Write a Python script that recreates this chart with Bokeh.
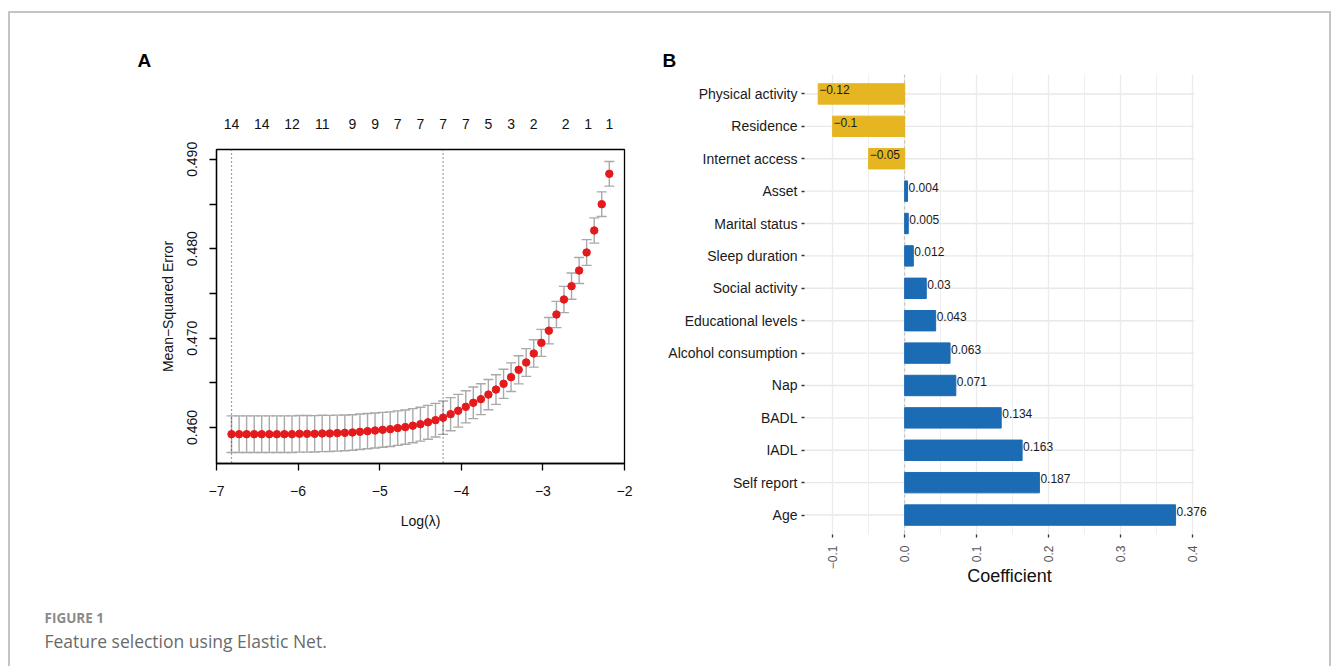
import math
from bokeh.plotting import figure
from bokeh.layouts import row, column
from bokeh.models import (ColumnDataSource, Whisker, TeeHead, FixedTicker, LinearAxis,
                          Range1d, FactorRange, Span, PrintfTickFormatter)
from bokeh.core.properties import value
from bokeh.embed import file_html
from bokeh.resources import INLINE

# ---------------- data: panel A (cross-validation curve) ----------------
log_lambda = [-6.816, -6.723, -6.631, -6.538, -6.446, -6.353, -6.260, -6.168, -6.075, -5.983,
              -5.890, -5.797, -5.705, -5.612, -5.520, -5.427, -5.334, -5.242, -5.149, -5.057,
              -4.964, -4.871, -4.779, -4.686, -4.594, -4.501, -4.408, -4.316, -4.223, -4.131,
              -4.038, -3.945, -3.853, -3.760, -3.668, -3.575, -3.482, -3.390, -3.297, -3.205,
              -3.112, -3.019, -2.927, -2.834, -2.742, -2.649, -2.556, -2.464, -2.371, -2.279,
              -2.186]
cv_mse = [0.45925, 0.45925, 0.45925, 0.45925, 0.45925, 0.45925, 0.45925, 0.45925, 0.45925, 0.45929,
          0.45929, 0.45929, 0.45933, 0.45933, 0.45937, 0.45940, 0.45944, 0.45952, 0.45959, 0.45966,
          0.45974, 0.45981, 0.45993, 0.46004, 0.46020, 0.46037, 0.46058, 0.46082, 0.46110, 0.46149,
          0.46187, 0.46231, 0.46276, 0.46317, 0.46368, 0.46424, 0.46489, 0.46563, 0.46645, 0.46727,
          0.46828, 0.46947, 0.47083, 0.47264, 0.47432, 0.47581, 0.47756, 0.47958, 0.48204, 0.48498,
          0.48838]
cv_se = [0.00205, 0.00205, 0.00205, 0.00205, 0.00205, 0.00205, 0.00205, 0.00205, 0.00205, 0.00205,
         0.00205, 0.00204, 0.00203, 0.00202, 0.00201, 0.00200, 0.00199, 0.00198, 0.00197, 0.00196,
         0.00195, 0.00194, 0.00193, 0.00192, 0.00191, 0.00190, 0.00189, 0.00188, 0.00187, 0.00185,
         0.00183, 0.00180, 0.00177, 0.00173, 0.00169, 0.00166, 0.00163, 0.00160, 0.00157, 0.00155,
         0.00153, 0.00151, 0.00148, 0.00147, 0.00147, 0.00147, 0.00146, 0.00144, 0.00141, 0.00138,
         0.00138]
nzero_pos = [-6.816, -6.446, -6.075, -5.705, -5.334, -5.057, -4.779, -4.501, -4.223, -3.945,
             -3.668, -3.390, -3.112, -2.720, -2.445, -2.186]
nzero_lab = ["14", "14", "12", "11", "9", "9", "7", "7", "7", "7", "5", "3", "2", "2", "1", "1"]
lambda_min = -6.816
lambda_1se = -4.223
xticks_a = [-7, -6, -5, -4, -3, -2]
xtick_labels_a = ["\u22127", "\u22126", "\u22125", "\u22124", "\u22123", "\u22122"]
yticks_a = [0.460, 0.470, 0.480, 0.490]
yminor_a = [0.465, 0.475, 0.485]

# ---------------- data: panel B (coefficients) ----------------
features = ["Physical activity", "Residence", "Internet access", "Asset", "Marital status",
            "Sleep duration", "Social activity", "Educational levels", "Alcohol consumption",
            "Nap", "BADL", "IADL", "Self report", "Age"]
coefs = [-0.12, -0.10, -0.05, 0.004, 0.005, 0.012, 0.03, 0.043, 0.063, 0.071, 0.134, 0.163, 0.187, 0.376]
coef_labels = ["\u22120.12", "\u22120.1", "\u22120.05", "0.004", "0.005", "0.012", "0.03", "0.043",
               "0.063", "0.071", "0.134", "0.163", "0.187", "0.376"]
xticks_b = [-0.1, 0.0, 0.1, 0.2, 0.3, 0.4]
xtick_labels_b = ["\u22120.1", "0.0", "0.1", "0.2", "0.3", "0.4"]
xminor_b = [-0.15, -0.05, 0.05, 0.15, 0.25, 0.35]

FONT = "Liberation Sans"
NEG_COLOR = "#E6B522"
POS_COLOR = "#1B6BB5"
GRID_X_START = -0.139
GRID_X_END = 0.402

# ================= Header with panel letters =================
pH = figure(width=1319, height=57, x_range=Range1d(0, 1319), y_range=Range1d(57, 0),
            x_axis_type=None, y_axis_type=None, output_backend="svg", toolbar_location=None,
            min_border=0)
pH.frame_align = False
pH.outline_line_color = None
pH.grid.visible = False
pH.text(x=[127, 652], y=[47, 47], text=["A", "B"], text_font=value(FONT), text_font_style="bold",
        text_font_size="19px", text_color="black", text_baseline="middle", text_align="left")

# ================= Panel A =================
pA = figure(width=640, height=530, x_range=Range1d(-7.0, -2.0), y_range=Range1d(0.45597, 0.4911),
            output_backend="svg", toolbar_location=None,
            min_border_left=206, min_border_right=26, min_border_top=79, min_border_bottom=137)
pA.frame_align = False
pA.xgrid.visible = False
pA.ygrid.visible = False
pA.outline_line_color = "black"
pA.outline_line_width = 1.3
pA.outline_line_alpha = 1.0

xa = pA.xaxis[0]
xa.ticker = FixedTicker(ticks=xticks_a)
xa.major_label_overrides = dict(zip(xticks_a, xtick_labels_a))
xa.axis_label = "Log(\u03bb)"
ya = pA.yaxis[0]
ya.ticker = FixedTicker(ticks=yticks_a, minor_ticks=yminor_a)
ya.formatter = PrintfTickFormatter(format="%.3f")
ya.axis_label = "Mean\u2212Squared Error"
ya.major_label_orientation = "vertical"
for ax in (xa, ya):
    ax.axis_line_color = "black"
    ax.axis_line_width = 1.3
    ax.major_tick_line_color = "black"
    ax.major_tick_line_width = 1.3
    ax.major_tick_out = 7
    ax.major_tick_in = 0
    ax.major_label_text_font = FONT
    ax.major_label_text_font_size = "14px"
    ax.major_label_text_color = "#111111"
    ax.axis_label_text_font = FONT
    ax.axis_label_text_font_size = "14px"
    ax.axis_label_text_font_style = "normal"
    ax.axis_label_text_color = "#111111"
xa.minor_tick_line_color = None
xa.major_label_standoff = 15
xa.axis_label_standoff = 14
ya.minor_tick_line_color = "black"
ya.minor_tick_line_width = 1.3
ya.minor_tick_out = 7
ya.minor_tick_in = 0
ya.major_label_standoff = 12
ya.axis_label_standoff = 9

top_ax = LinearAxis(ticker=FixedTicker(ticks=nzero_pos),
                    major_label_overrides=dict(zip(nzero_pos, nzero_lab)),
                    axis_line_color=None, major_tick_line_color=None, minor_tick_line_color=None,
                    major_label_standoff=15, major_label_text_font=FONT,
                    major_label_text_font_size="14px", major_label_text_color="#111111")
pA.add_layout(top_ax, "above")

for loc in (lambda_min, lambda_1se):
    pA.add_layout(Span(location=loc, dimension="height", line_color="#444444",
                       line_width=1.2, line_dash="1 3"))

srcA = ColumnDataSource(dict(x=log_lambda, y=cv_mse,
                             up=[m + s for m, s in zip(cv_mse, cv_se)],
                             lo=[m - s for m, s in zip(cv_mse, cv_se)]))
GREY = "#A9A9A9"
pA.add_layout(Whisker(base="x", upper="up", lower="lo", source=srcA, dimension="height",
                      line_color=GREY, line_width=1.4,
                      upper_head=TeeHead(size=10, line_color=GREY, line_width=1.4),
                      lower_head=TeeHead(size=10, line_color=GREY, line_width=1.4)))
pA.scatter("x", "y", source=srcA, size=7.5, fill_color="#E41A1C", line_color="#E41A1C")

# ================= Panel B =================
pB = figure(width=679, height=530,
            y_range=FactorRange(factors=list(reversed(features)), range_padding=0.1,
                                range_padding_units="absolute"),
            x_range=Range1d(-0.139, 0.43),
            output_backend="svg", toolbar_location=None,
            min_border_left=154, min_border_right=115, min_border_top=4, min_border_bottom=66)
pB.frame_align = False
pB.outline_line_color = None

xb = pB.xaxis[0]
xb.ticker = FixedTicker(ticks=xticks_b, minor_ticks=xminor_b)
xb.major_label_overrides = dict(zip(xticks_b, xtick_labels_b))
xb.axis_label = "Coefficient"
xb.major_label_orientation = math.pi / 2
xb.major_label_text_color = "#555555"
xb.major_label_text_font_size = "12px"
xb.major_label_standoff = 7
xb.axis_label_standoff = -6
xb.axis_label_text_font_size = "18px"
yb = pB.yaxis[0]
yb.major_label_text_color = "#1a1a1a"
yb.major_label_text_font_size = "14px"
yb.major_label_standoff = 4
for ax in (xb, yb):
    ax.axis_line_color = None
    ax.major_tick_line_color = "#333333"
    ax.major_tick_line_width = 1.3
    ax.major_tick_out = 3
    ax.major_tick_in = 0
    ax.minor_tick_line_color = None
    ax.major_label_text_font = FONT
    ax.axis_label_text_font = FONT
    ax.axis_label_text_font_style = "normal"
    ax.axis_label_text_color = "#111111"

pB.xgrid.ticker = xb.ticker
pB.xgrid.grid_line_color = "#EBEBEB"
pB.xgrid.grid_line_width = 1.3
pB.xgrid.minor_grid_line_color = "#EFEFEF"
pB.xgrid.minor_grid_line_width = 1.0
pB.ygrid.visible = False
hgrid = pB.segment(x0=GRID_X_START, x1=GRID_X_END, y0=features, y1=features,
                   line_color="#E8E8E8", line_width=1.4)
hgrid.level = "underlay"

zero = Span(location=0, dimension="height", line_color="#BDBDBD", line_width=1.0, line_dash="3 3")
zero.level = "underlay"
pB.add_layout(zero)

srcB = ColumnDataSource(dict(f=features, v=coefs, lab=coef_labels,
                             c=[NEG_COLOR if v < 0 else POS_COLOR for v in coefs]))
pB.hbar(y="f", left=0, right="v", height=0.63, fill_color="c", line_color="c", source=srcB)
pB.text(x="v", y="f", text="lab", source=srcB, text_align="left", text_baseline="middle",
        x_offset=1, y_offset=-4, text_font=value(FONT), text_font_size="12px", text_color="#1a1a1a")

# ================= Caption =================
pC = figure(width=1319, height=66, x_range=Range1d(0, 1319), y_range=Range1d(66, 0),
            x_axis_type=None, y_axis_type=None, output_backend="svg", toolbar_location=None,
            min_border=0)
pC.frame_align = False
pC.outline_line_color = None
pC.grid.visible = False
pC.text(x=[34], y=[17], text=["FIGURE 1"], text_font=value("Open Sans"), text_font_style="bold",
        text_font_size="13.5px", text_color="#8a8a8a", text_baseline="middle", text_align="left")
pC.text(x=[34], y=[40], text=["Feature selection using Elastic Net."], text_font=value("Open Sans"),
        text_font_size="17.5px", text_color="#6a6a6a", text_baseline="middle", text_align="left")

layout = column(pH, row(pA, pB), pC,
                styles={"border-top": "2px solid #c4c4c4", "border-left": "2px solid #c4c4c4",
                        "border-right": "2px solid #c4c4c4", "margin-top": "11px",
                        "margin-left": "8px"})

open("out.html", "w").write(file_html(layout, INLINE))
